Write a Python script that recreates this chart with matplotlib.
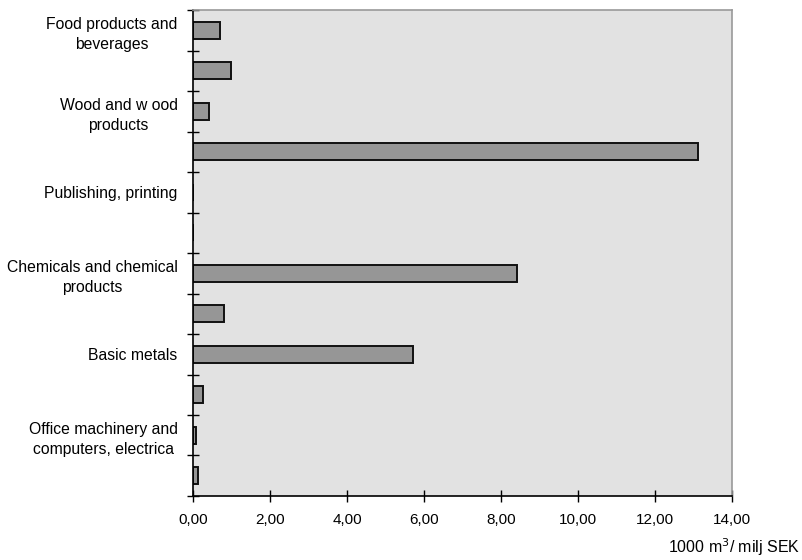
import matplotlib.pyplot as plt
import numpy as np

plt.rcParams["font.family"] = ["Liberation Sans", "DejaVu Sans"]

# categories from top to bottom; only every other one carries a label
labels = [
    "Food products and\nbeverages",
    "",
    "Wood and w ood\nproducts",
    "",
    "Publishing, printing",
    "",
    "Chemicals and chemical\nproducts",
    "",
    "Basic metals",
    "",
    "Office machinery and\ncomputers, electrica",
    "",
]
values = [0.70, 1.00, 0.42, 13.12, 0.0, 0.0, 8.42, 0.81, 5.71, 0.27, 0.08, 0.12]
x_ticks = [0, 2, 4, 6, 8, 10, 12, 14]
x_tick_labels = ["0,00", "2,00", "4,00", "6,00", "8,00", "10,00", "12,00", "14,00"]

fig = plt.figure(figsize=(8.03, 5.6), dpi=100)
ax = fig.add_axes([0.2403, 0.1143, 0.6713, 0.8677])
ax.set_facecolor("#e2e2e2")

y = np.arange(len(values))
ax.barh(y, values, height=0.42, color="#969696", edgecolor="#111111", linewidth=1.4, zorder=2)

ax.set_ylim(len(values) - 0.5, -0.5)
ax.set_xlim(0, 14)

ax.set_yticks(y)
ax.set_yticklabels(labels, fontsize=11.3, multialignment="center", linespacing=1.45)
ax.set_yticks(np.arange(len(values) + 1) - 0.5, minor=True)
ax.tick_params(axis="y", which="major", length=0, pad=11)
ax.tick_params(axis="y", which="minor", direction="inout", length=9, width=1, color="black")

ax.set_xticks(x_ticks)
ax.set_xticklabels(x_tick_labels, fontsize=11)
ax.tick_params(axis="x", direction="inout", length=9, width=1, color="black", pad=8)

for side in ["left", "bottom"]:
    ax.spines[side].set_color("black")
    ax.spines[side].set_linewidth(1.2)
for side in ["right", "top"]:
    ax.spines[side].set_color("#999999")
    ax.spines[side].set_linewidth(1.2)

fig.text(0.997, 0.0125, "1000 m$^3$/ milj SEK", ha="right", va="baseline", fontsize=11.5)

plt.savefig("out.png", dpi=100)
